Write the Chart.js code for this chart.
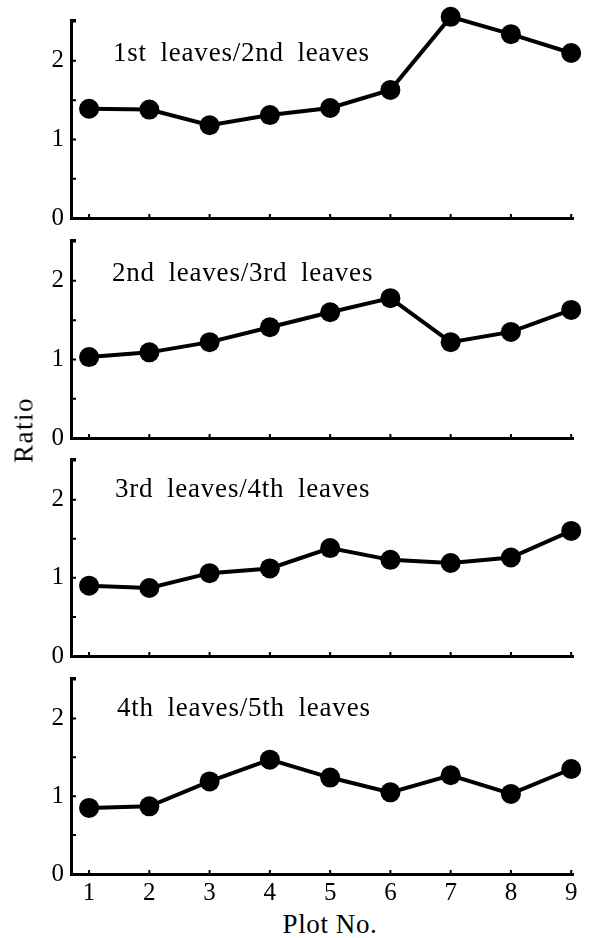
<!DOCTYPE html>
<html lang="en">

<head>
    <meta charset="UTF-8">
    <title>Leaf ratio by plot</title>
    <script src="https://cdn.jsdelivr.net/npm/chart.js"></script>
    <style>
        body { margin: 0; background: #fff; }
        .fig { position: relative; width: 590px; height: 938px; font-family: "Liberation Serif", serif; color: #000; }
        .fig canvas { position: absolute; left: 0; }
        .lbl { position: absolute; font-size: 27px; line-height: 27px; letter-spacing: 0.8px; word-spacing: 6px; white-space: nowrap; }
        .ytitle { position: absolute; left: 24px; top: 430px; font-size: 27px; letter-spacing: 1.5px; white-space: nowrap;
            transform: translate(-50%, -50%) rotate(-90deg); }
        .xtitle { position: absolute; left: 330px; top: 924px; font-size: 27px; letter-spacing: 0.6px; white-space: nowrap;
            transform: translate(-50%, -50%); }
    </style>
</head>

<body>
    <div class="fig">
        <canvas id="p1" width="590" height="228" style="top:0px"></canvas>
        <canvas id="p2" width="590" height="223" style="top:225px"></canvas>
        <canvas id="p3" width="590" height="222" style="top:444px"></canvas>
        <canvas id="p4" width="590" height="241" style="top:663px"></canvas>
        <div class="lbl" style="left:113px; top:39px">1st leaves/2nd leaves</div>
        <div class="lbl" style="left:112px; top:259px">2nd leaves/3rd leaves</div>
        <div class="lbl" style="left:115px; top:475px">3rd leaves/4th leaves</div>
        <div class="lbl" style="left:117px; top:694px">4th leaves/5th leaves</div>
        <div class="ytitle">Ratio</div>
        <div class="xtitle">Plot No.</div>
    </div>
</body>

</html>
<script>
    // data
    const plots = [1, 2, 3, 4, 5, 6, 7, 8, 9];
    const ratio1to2 = [1.39, 1.38, 1.18, 1.31, 1.40, 1.63, 2.56, 2.34, 2.10];
    const ratio2to3 = [1.03, 1.09, 1.22, 1.41, 1.60, 1.78, 1.22, 1.35, 1.63];
    const ratio3to4 = [0.90, 0.87, 1.06, 1.12, 1.38, 1.23, 1.19, 1.26, 1.60];
    const ratio4to5 = [0.85, 0.87, 1.19, 1.47, 1.24, 1.05, 1.27, 1.03, 1.35];
    const yTicks = [0, 0.5, 1, 1.5, 2, 2.5];

    const ink = '#000';

    // small tick marks pointing into the plot
    const innerTicks = {
        id: 'innerTicks',
        afterDraw(chart) {
            const { ctx, chartArea, scales: { x, y } } = chart;
            ctx.save();
            ctx.strokeStyle = ink;
            ctx.lineWidth = 2;
            ctx.beginPath();
            x.ticks.forEach(t => {
                const px = x.getPixelForValue(t.value);
                ctx.moveTo(px, chartArea.bottom);
                ctx.lineTo(px, chartArea.bottom - 4);
            });
            y.ticks.forEach(t => {
                const py = y.getPixelForValue(t.value);
                ctx.moveTo(chartArea.left, py);
                ctx.lineTo(chartArea.left + 5, py);
            });
            ctx.moveTo(chartArea.left, chartArea.top);
            ctx.lineTo(chartArea.left + 5, chartArea.top);
            ctx.stroke();
            ctx.restore();
        }
    };

    function panel(id, values, showX) {
        new Chart(document.getElementById(id), {
            type: 'line',
            data: {
                datasets: [{
                    data: plots.map((p, i) => ({ x: p, y: values[i] })),
                    borderColor: ink,
                    borderWidth: 4,
                    pointRadius: 10,
                    pointBackgroundColor: ink,
                    pointBorderWidth: 0,
                    tension: 0,
                    clip: false
                }]
            },
            options: {
                responsive: false,
                animation: false,
                devicePixelRatio: 1,
                layout: { padding: { top: id === 'p1' ? 20 : 15, right: 17, left: 0, bottom: 0 } },
                plugins: { legend: { display: false }, tooltip: { enabled: false } },
                scales: {
                    x: {
                        type: 'linear',
                        min: 0.7,
                        max: 9.03,
                        afterBuildTicks: s => { s.ticks = plots.map(v => ({ value: v })); },
                        afterFit: s => {
                            s.height = showX ? 30 : 10;
                            s.paddingLeft = 0; s.paddingRight = 0;
                        },
                        grid: { display: false, drawTicks: false },
                        border: { display: true, color: ink, width: 3 },
                        ticks: {
                            display: showX,
                            color: ink,
                            padding: 4,
                            maxRotation: 0,
                            font: { family: 'Liberation Serif', size: 25 }
                        }
                    },
                    y: {
                        min: 0,
                        max: 2.52,
                        afterBuildTicks: s => { s.ticks = yTicks.map(v => ({ value: v })); },
                        afterFit: s => {
                            s.width = 71;
                            s.paddingTop = 0; s.paddingBottom = 0;
                        },
                        grid: { display: false, drawTicks: false },
                        border: { display: true, color: ink, width: 3 },
                        ticks: {
                            color: ink,
                            padding: 7,
                            font: { family: 'Liberation Serif', size: 25 },
                            callback: v => Number.isInteger(v) ? v : ''
                        }
                    }
                }
            },
            plugins: [innerTicks]
        });
    }

    panel('p1', ratio1to2, false);
    panel('p2', ratio2to3, false);
    panel('p3', ratio3to4, false);
    panel('p4', ratio4to5, true);
</script>
